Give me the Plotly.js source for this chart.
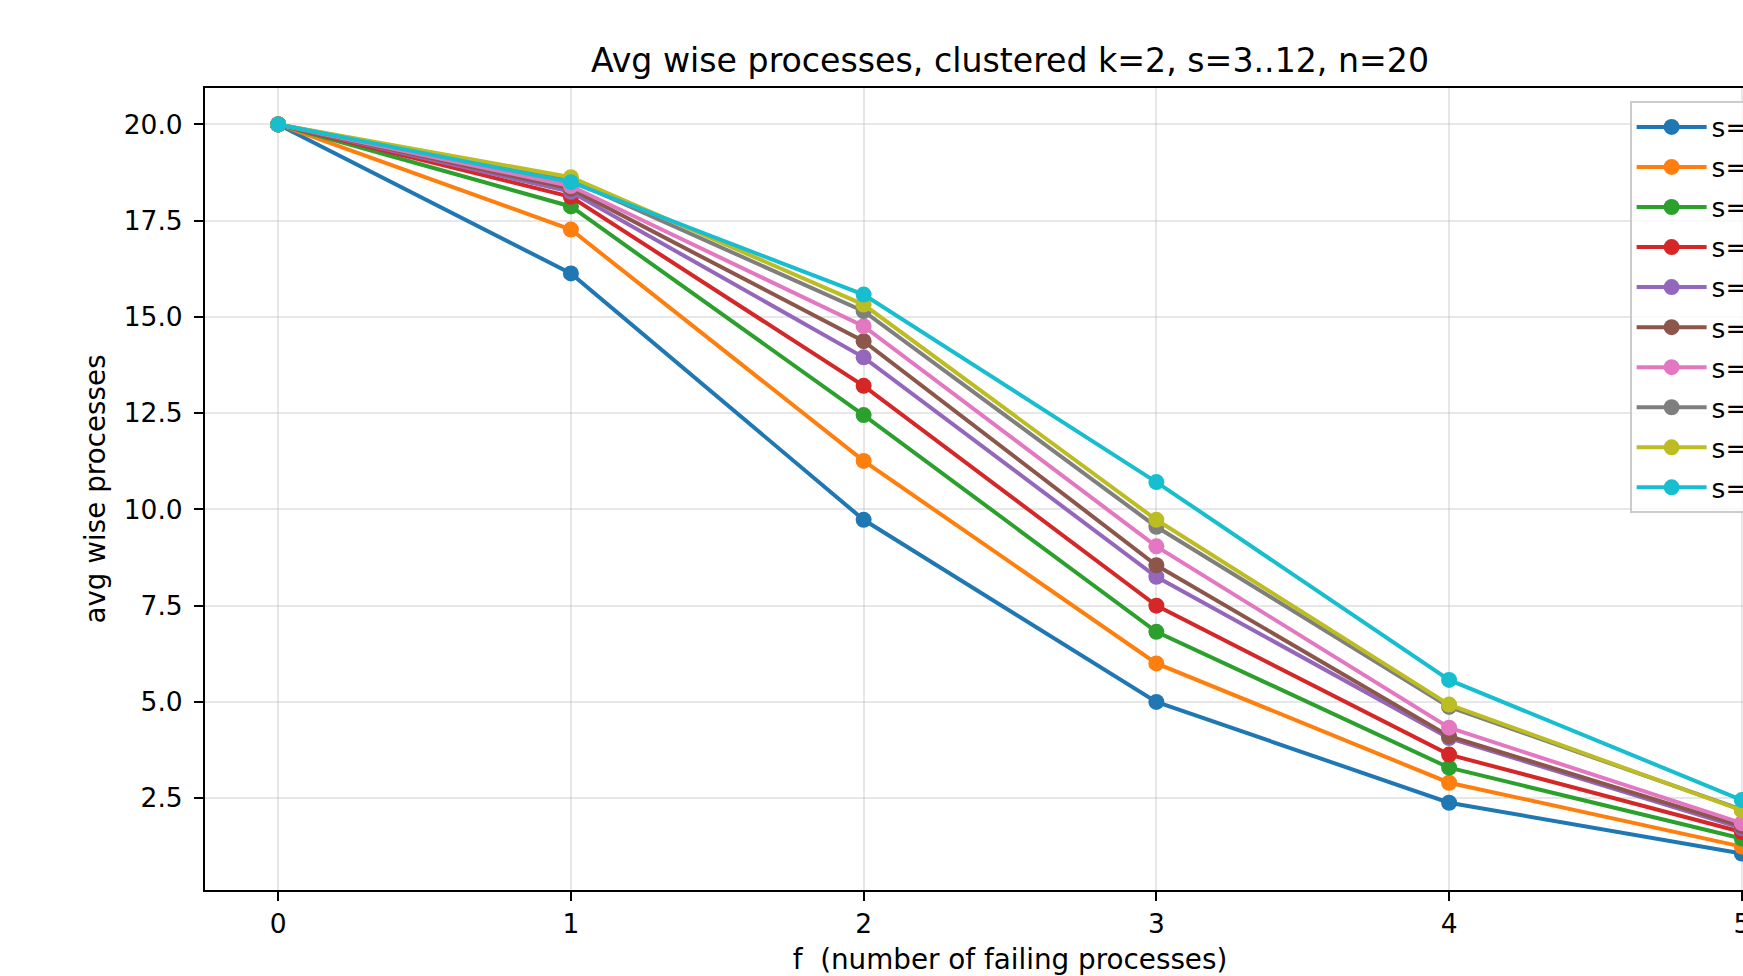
<!DOCTYPE html>
<html>
<head>
<meta charset="utf-8">
<script src="https://cdn.plot.ly/plotly-3.0.1.min.js"></script>
<style>
html, body { margin: 0; padding: 0; overflow: hidden; background: #fff; width: 1743px; height: 976px; }
#chart { width: 2100px; height: 976px; }
</style>
</head>
<body>
<div id="chart"></div>
<script>
// x values: f (number of failing processes)
const f = [0, 1, 2, 3, 4, 5];
// series labels
const seriesNames = ["s=3", "s=4", "s=5", "s=6", "s=7", "s=8", "s=9", "s=10", "s=11", "s=12"];
// avg wise processes per series
const s3  = [20, 16.13,  9.73,  5.00, 2.38, 1.06];
const s4  = [20, 17.27, 11.26,  6.00, 2.90, 1.24];
const s5  = [20, 17.87, 12.45,  6.82, 3.29, 1.45];
const s6  = [20, 18.12, 13.21,  7.50, 3.63, 1.62];
const s7  = [20, 18.25, 13.95,  8.25, 4.06, 1.72];
const s8  = [20, 18.33, 14.37,  8.55, 4.11, 1.77];
const s9  = [20, 18.40, 14.76,  9.04, 4.33, 1.85];
const s10 = [20, 18.55, 15.15,  9.55, 4.87, 2.20];
const s11 = [20, 18.63, 15.32,  9.73, 4.93, 2.18];
const s12 = [20, 18.50, 15.58, 10.71, 5.57, 2.45];
const seriesValues = [s3, s4, s5, s6, s7, s8, s9, s10, s11, s12];
const colors = ["#1f77b4", "#ff7f0e", "#2ca02c", "#d62728", "#9467bd",
                "#8c564b", "#e377c2", "#7f7f7f", "#bcbd22", "#17becf"];
const yTickVals = [2.5, 5, 7.5, 10, 12.5, 15, 17.5, 20];
const yTickText = ["2.5", "5.0", "7.5", "10.0", "12.5", "15.0", "17.5", "20.0"];
const xTickVals = [0, 1, 2, 3, 4, 5];

const FONT = "DejaVu Sans, Liberation Sans, sans-serif";

const traces = seriesValues.map((vals, i) => ({
  x: f, y: vals, name: seriesNames[i], type: "scatter", mode: "lines+markers",
  line: {color: colors[i], width: 4},
  marker: {color: colors[i], size: 16},
  legendgroup: "g" + i
}));

const W = 2100, H = 976;
const L = 204.5, R = W - 1815.5, T = 87.8, B = H - 890.4;
const PW = 1815.5 - L, PH = 890.4 - T;

const layout = {
  width: W, height: H,
  margin: {l: L, r: R, t: T, b: B, pad: 0},
  paper_bgcolor: "#ffffff", plot_bgcolor: "#ffffff",
  font: {family: FONT, size: 26.5, color: "#000"},
  title: {text: "Avg wise processes, clustered k=2, s=3..12, n=20",
          font: {family: FONT, size: 33.2, color: "#000"},
          x: 0.5, xref: "paper", xanchor: "center",
          y: 1 - 60 / H, yref: "container", yanchor: "middle"},
  xaxis: {
    range: [-0.25, 5.25], tickvals: xTickVals, ticktext: xTickVals.map(String),
    showline: true, linecolor: "#000", linewidth: 2, mirror: true,
    ticks: "outside", ticklen: 9, tickwidth: 2, tickcolor: "#000",
    showgrid: true, gridcolor: "rgba(176,176,176,0.3)", gridwidth: 2,
    zeroline: false, automargin: false,
    tickfont: {family: FONT, size: 26.5, color: "#000"},
    title: {text: "f  (number of failing processes)", font: {family: FONT, size: 27.8, color: "#000"}, standoff: 13}
  },
  yaxis: {
    range: [0.113, 20.947], tickvals: yTickVals, ticktext: yTickText,
    showline: true, linecolor: "#000", linewidth: 2, mirror: true,
    ticks: "outside", ticklen: 9, tickwidth: 2, tickcolor: "#000",
    ticklabelstandoff: 6,
    showgrid: true, gridcolor: "rgba(176,176,176,0.3)", gridwidth: 2,
    zeroline: false, automargin: false,
    tickfont: {family: FONT, size: 26.5, color: "#000"},
    title: {text: "avg wise processes", font: {family: FONT, size: 27.8, color: "#000"}, standoff: 10}
  },
  showlegend: true,
  legend: {
    x: (1630 - L) / PW, xanchor: "left",
    y: (890.4 - 101) / PH, yanchor: "top",
    bgcolor: "rgba(255,255,255,0.8)", bordercolor: "#cccccc", borderwidth: 2,
    font: {family: FONT, size: 26.5, color: "#000"},
    itemwidth: 70, traceorder: "grouped", tracegroupgap: 2.6
  }
};

Plotly.newPlot("chart", traces, layout, {displayModeBar: false, staticPlot: true});
</script>
</body>
</html>
